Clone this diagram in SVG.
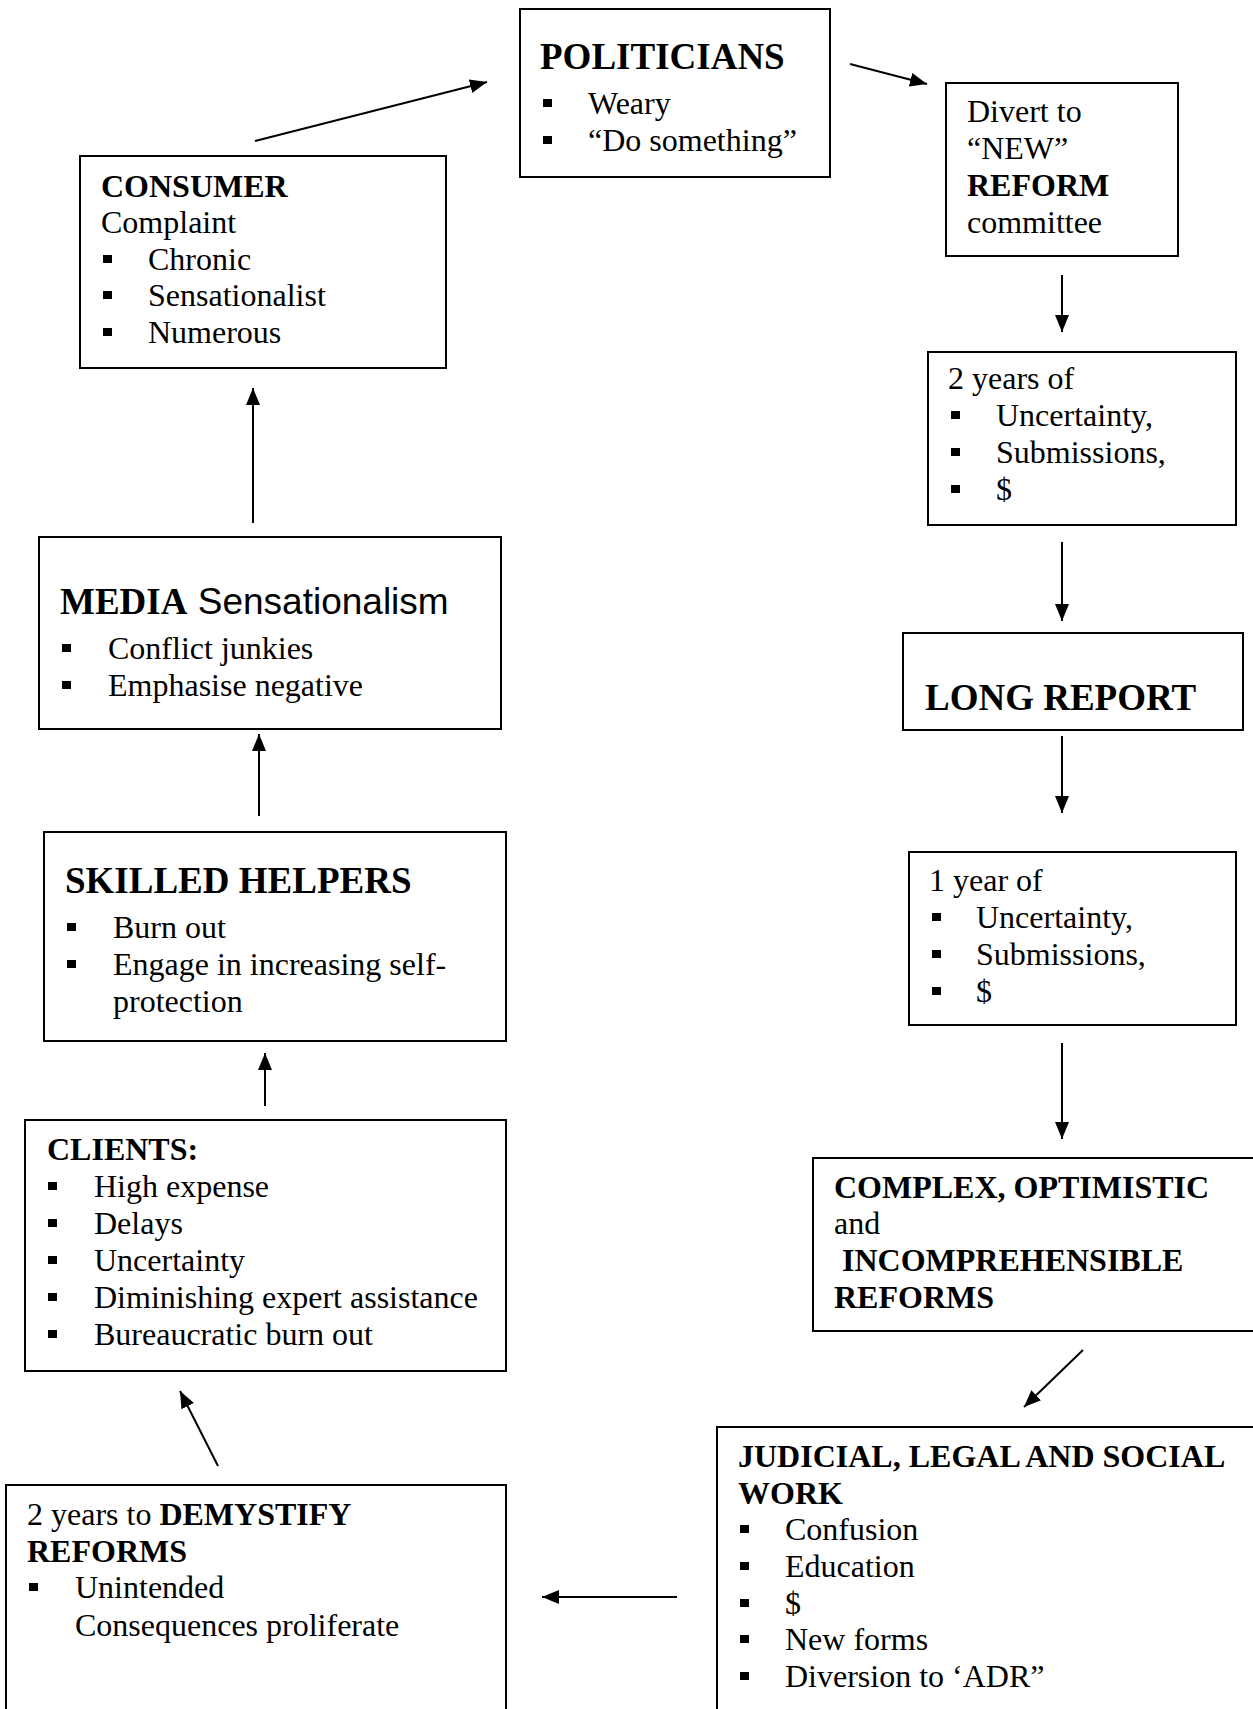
<svg xmlns="http://www.w3.org/2000/svg" width="1253" height="1709" viewBox="0 0 1253 1709">
<style>
.box{fill:#fff;stroke:#000;stroke-width:2}
.t{font-family:"Liberation Serif","Times New Roman",serif;font-size:32px;fill:#000}
.b{font-weight:bold}
.h{font-family:"Liberation Serif","Times New Roman",serif;font-size:37px;font-weight:bold;fill:#000}
.s{font-family:"Liberation Sans",Arial,sans-serif;font-size:37px;font-weight:normal}
.bl{fill:#000}
.c{stroke:#000;stroke-width:2;fill:none;marker-end:url(#ah)}
</style>
<defs>
<marker id="ah" markerUnits="userSpaceOnUse" markerWidth="18" markerHeight="14" refX="17" refY="7" orient="auto">
<path d="M0,0 L17,7 L0,14 z" fill="#000"/>
</marker>
</defs>
<rect width="1253" height="1709" fill="#fff"/>

<g id="politicians">
<rect class="box" x="520" y="9" width="310" height="168"/>
<text class="h" x="540" y="69">POLITICIANS</text>
<rect class="bl" x="543" y="99" width="9" height="8"/>
<text class="t" x="588" y="114">Weary</text>
<rect class="bl" x="543" y="136" width="9" height="8"/>
<text class="t" x="588" y="151">“Do something”</text>
</g>

<g id="consumer">
<rect class="box" x="80" y="156" width="366" height="212"/>
<text class="t b" x="101" y="197">CONSUMER</text>
<text class="t" x="101" y="233">Complaint</text>
<rect class="bl" x="103" y="255" width="9" height="8"/>
<text class="t" x="148" y="270">Chronic</text>
<rect class="bl" x="103" y="291" width="9" height="8"/>
<text class="t" x="148" y="306">Sensationalist</text>
<rect class="bl" x="103" y="328" width="9" height="8"/>
<text class="t" x="148" y="343">Numerous</text>
</g>

<g id="divert">
<rect class="box" x="946" y="83" width="232" height="173"/>
<text class="t" x="967" y="122">Divert to</text>
<text class="t" x="967" y="159">“NEW”</text>
<text class="t b" x="967" y="196">REFORM</text>
<text class="t" x="967" y="233">committee</text>
</g>

<g id="two-years">
<rect class="box" x="928" y="352" width="308" height="173"/>
<text class="t" x="948" y="389">2 years of</text>
<rect class="bl" x="951" y="411" width="9" height="8"/>
<text class="t" x="996" y="426">Uncertainty,</text>
<rect class="bl" x="951" y="448" width="9" height="8"/>
<text class="t" x="996" y="463">Submissions,</text>
<rect class="bl" x="951" y="485" width="9" height="8"/>
<text class="t" x="996" y="500">$</text>
</g>

<g id="long-report">
<rect class="box" x="903" y="633" width="340" height="97"/>
<text class="h" x="925" y="710">LONG REPORT</text>
</g>

<g id="one-year">
<rect class="box" x="909" y="852" width="327" height="173"/>
<text class="t" x="929" y="891">1 year of</text>
<rect class="bl" x="932" y="913" width="9" height="8"/>
<text class="t" x="976" y="928">Uncertainty,</text>
<rect class="bl" x="932" y="950" width="9" height="8"/>
<text class="t" x="976" y="965">Submissions,</text>
<rect class="bl" x="932" y="987" width="9" height="8"/>
<text class="t" x="976" y="1002">$</text>
</g>

<g id="complex">
<rect class="box" x="813" y="1158" width="460" height="173"/>
<text class="t b" x="834" y="1198">COMPLEX, OPTIMISTIC</text>
<text class="t" x="834" y="1234">and</text>
<text class="t b" x="842" y="1271">INCOMPREHENSIBLE</text>
<text class="t b" x="834" y="1308">REFORMS</text>
</g>

<g id="judicial">
<rect class="box" x="717" y="1427" width="560" height="320"/>
<text class="t b" x="738" y="1467">JUDICIAL, LEGAL AND SOCIAL</text>
<text class="t b" x="738" y="1504">WORK</text>
<rect class="bl" x="740" y="1525" width="9" height="8"/>
<text class="t" x="785" y="1540">Confusion</text>
<rect class="bl" x="740" y="1562" width="9" height="8"/>
<text class="t" x="785" y="1577">Education</text>
<rect class="bl" x="740" y="1599" width="9" height="8"/>
<text class="t" x="785" y="1614">$</text>
<rect class="bl" x="740" y="1635" width="9" height="8"/>
<text class="t" x="785" y="1650">New forms</text>
<rect class="bl" x="740" y="1672" width="9" height="8"/>
<text class="t" x="785" y="1687">Diversion to ‘ADR”</text>
</g>

<g id="demystify">
<rect class="box" x="6" y="1485" width="500" height="300"/>
<text class="t" x="27" y="1525">2 years to <tspan class="b">DEMYSTIFY</tspan></text>
<text class="t b" x="27" y="1562">REFORMS</text>
<rect class="bl" x="29" y="1583" width="9" height="8"/>
<text class="t" x="75" y="1598">Unintended</text>
<text class="t" x="75" y="1636">Consequences proliferate</text>
</g>

<g id="clients">
<rect class="box" x="25" y="1120" width="481" height="251"/>
<text class="t b" x="47" y="1160">CLIENTS:</text>
<rect class="bl" x="48" y="1182" width="9" height="8"/>
<text class="t" x="94" y="1197">High expense</text>
<rect class="bl" x="48" y="1219" width="9" height="8"/>
<text class="t" x="94" y="1234">Delays</text>
<rect class="bl" x="48" y="1256" width="9" height="8"/>
<text class="t" x="94" y="1271">Uncertainty</text>
<rect class="bl" x="48" y="1293" width="9" height="8"/>
<text class="t" x="94" y="1308">Diminishing expert assistance</text>
<rect class="bl" x="48" y="1330" width="9" height="8"/>
<text class="t" x="94" y="1345">Bureaucratic burn out</text>
</g>

<g id="skilled-helpers">
<rect class="box" x="44" y="832" width="462" height="209"/>
<text class="h" x="65" y="893">SKILLED HELPERS</text>
<rect class="bl" x="67" y="923" width="9" height="8"/>
<text class="t" x="113" y="938">Burn out</text>
<rect class="bl" x="67" y="960" width="9" height="8"/>
<text class="t" x="113" y="975">Engage in increasing self-</text>
<text class="t" x="113" y="1012">protection</text>
</g>

<g id="media">
<rect class="box" x="39" y="537" width="462" height="192"/>
<text class="h" x="60" y="614">MEDIA<tspan class="s"> Sensationalism</tspan></text>
<rect class="bl" x="62" y="644" width="9" height="8"/>
<text class="t" x="108" y="659">Conflict junkies</text>
<rect class="bl" x="62" y="681" width="9" height="8"/>
<text class="t" x="108" y="696">Emphasise negative</text>
</g>

<g id="connectors">
<line class="c" x1="255" y1="141" x2="487" y2="82"/>
<line class="c" x1="850" y1="64" x2="927" y2="84"/>
<line class="c" x1="1062" y1="275" x2="1062" y2="332"/>
<line class="c" x1="1062" y1="542" x2="1062" y2="621"/>
<line class="c" x1="1062" y1="736" x2="1062" y2="813"/>
<line class="c" x1="1062" y1="1043" x2="1062" y2="1139"/>
<line class="c" x1="1083" y1="1350" x2="1024" y2="1407"/>
<line class="c" x1="677" y1="1597" x2="542" y2="1597"/>
<line class="c" x1="218" y1="1466" x2="180" y2="1391"/>
<line class="c" x1="265" y1="1106" x2="265" y2="1053"/>
<line class="c" x1="259" y1="816" x2="259" y2="734"/>
<line class="c" x1="253" y1="523" x2="253" y2="388"/>
</g>
</svg>
